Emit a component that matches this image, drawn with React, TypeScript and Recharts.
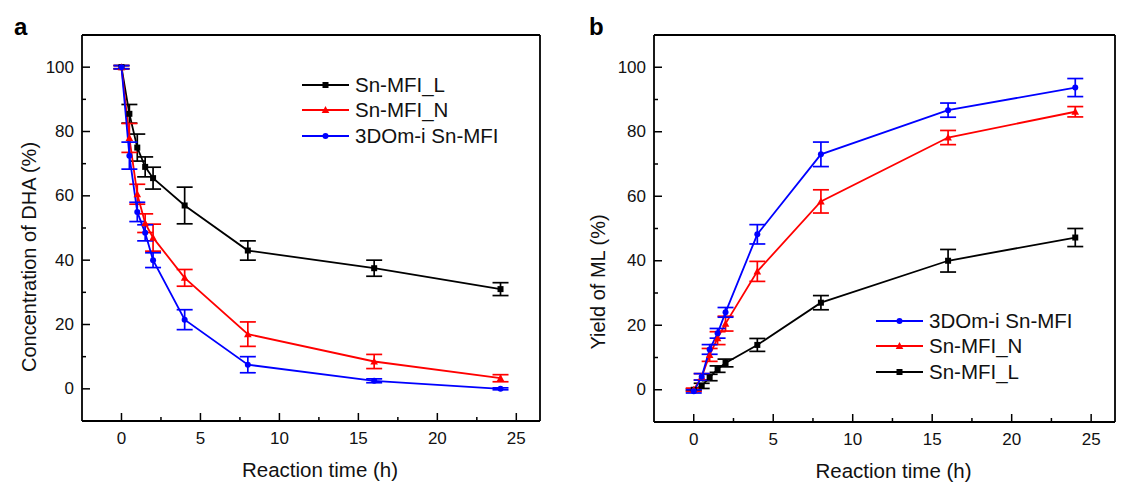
import { ComposedChart, Line, XAxis, YAxis, ErrorBar, Legend } from 'recharts'

const FONT = 'Arial, "Liberation Sans", sans-serif'

// reaction time (h), shared by every series
const time = [0, 0.5, 1, 1.5, 2, 4, 8, 16, 24]

// panel a: concentration of DHA (%)
const dhaL = [100, 85.5, 75, 69, 65.5, 57, 43, 37.5, 31]
const dhaLErr = [0.5, 2.9, 4.2, 3.1, 3.4, 5.7, 3, 2.5, 2]
const dhaN = [100, 78, 60.5, 51.5, 47, 34.5, 17, 8.5, 3.3]
const dhaNErr = [0.5, 4.5, 3.1, 2.9, 4.2, 2.6, 3.8, 2.2, 1.1]
const dhaI = [100, 72.5, 55, 48.5, 40, 21.5, 7.5, 2.5, 0]
const dhaIErr = [0.5, 4.2, 3, 2.5, 2.3, 3.1, 2.5, 0.6, 0.3]

// panel b: yield of ML (%)
const mlI = [-0.5, 4, 12.5, 17.5, 24, 48.2, 73, 86.7, 93.7]
const mlIErr = [0.5, 1, 1.5, 1.5, 1.5, 3, 3.8, 2.2, 2.8]
const mlN = [0, 4, 10.8, 16, 20.5, 36.7, 58.4, 78.2, 86.2]
const mlNErr = [0.5, 1, 2, 2, 2.3, 3.1, 3.6, 2.2, 1.6]
const mlL = [0, 1.2, 3.8, 6.4, 8.3, 13.9, 27, 40, 47.2]
const mlLErr = [0.3, 0.8, 1, 1, 1.2, 2, 2.2, 3.5, 2.8]

const xMajor = [0, 5, 10, 15, 20, 25]
const xMinor = [2.5, 7.5, 12.5, 17.5, 22.5]
const yMajor = [0, 20, 40, 60, 80, 100]
const yMinor = [10, 30, 50, 70, 90]

const xTicks = [...xMajor, ...xMinor].sort((a, b) => a - b)
const yTicks = [...yMajor, ...yMinor].sort((a, b) => a - b)

const nameL = 'Sn-MFI_L'
const nameN = 'Sn-MFI_N'
const nameI = '3DOm-i Sn-MFI'

const BLACK = '#000000'
const RED = '#ff0000'
const BLUE = '#0000ff'

const dhaData = time.map((t, i) => ({
  t, L: dhaL[i], LErr: dhaLErr[i], N: dhaN[i], NErr: dhaNErr[i], I: dhaI[i], IErr: dhaIErr[i],
}))
const mlData = time.map((t, i) => ({
  t, L: mlL[i], LErr: mlLErr[i], N: mlN[i], NErr: mlNErr[i], I: mlI[i], IErr: mlIErr[i],
}))

type Shape = 'square' | 'triangle' | 'circle'

function Marker({ cx, cy, shape, color }: { cx: number; cy: number; shape: Shape; color: string }) {
  if (shape === 'square') return <rect x={cx - 3} y={cy - 3} width={6} height={6} fill={color} />
  if (shape === 'triangle')
    return <path d={`M${cx},${cy - 4}L${cx + 3.8},${cy + 3}L${cx - 3.8},${cy + 3}Z`} fill={color} />
  return <circle cx={cx} cy={cy} r={3} fill={color} />
}

const dotFor = (shape: Shape, color: string) =>
  // eslint-disable-next-line @typescript-eslint/no-explicit-any
  (p: any) => <Marker key={`d${p.index}`} cx={p.cx} cy={p.cy} shape={shape} color={color} />

// eslint-disable-next-line @typescript-eslint/no-explicit-any
function YTick(props: any) {
  const { x, y, payload } = props
  const major = yMajor.includes(payload.value)
  return (
    <g>
      <line x1={x} x2={x + (major ? 8 : 4)} y1={y} y2={y} stroke="#000" strokeWidth={1.5} />
      {major && (
        <text x={x - 8} y={y} textAnchor="end" dominantBaseline="central"
          fontSize={17} fontFamily={FONT} fill="#111">{payload.value}</text>
      )}
    </g>
  )
}

// eslint-disable-next-line @typescript-eslint/no-explicit-any
function XTick(props: any) {
  const { x, y, payload } = props
  const major = xMajor.includes(payload.value)
  return (
    <g>
      <line x1={x} x2={x} y1={y} y2={y - (major ? 8 : 4)} stroke="#000" strokeWidth={1.5} />
      {major && (
        <text x={x} y={y + 23} textAnchor="middle" fontSize={17} fontFamily={FONT} fill="#111">
          {payload.value}
        </text>
      )}
    </g>
  )
}

function LegendBox({ items }: { items: { name: string; color: string; shape: Shape }[] }) {
  return (
    <div style={{ fontFamily: FONT, fontSize: 20.5, color: '#111' }}>
      {items.map(it => (
        <div key={it.name} style={{ display: 'flex', alignItems: 'center', height: 25.6, whiteSpace: 'nowrap' }}>
          <svg width={47} height={12}>
            <line x1={0} x2={47} y1={6} y2={6} stroke={it.color} strokeWidth={2} />
            <Marker cx={23.5} cy={6} shape={it.shape} color={it.color} />
          </svg>
          <span style={{ marginLeft: 6 }}>{it.name}</span>
        </div>
      ))}
    </div>
  )
}

interface PanelProps {
  // eslint-disable-next-line @typescript-eslint/no-explicit-any
  data: any[]
  width: number
  margin: { top: number; right: number; bottom: number; left: number }
  yTitle: string
  yTitleX: number
  yTitleY: number
  legendPos: { left: number; top: number }
  legendItems: { name: string; color: string; shape: Shape }[]
  order: ('L' | 'N' | 'I')[]
}

const seriesInfo = {
  L: { name: nameL, color: BLACK, shape: 'square' as Shape },
  N: { name: nameN, color: RED, shape: 'triangle' as Shape },
  I: { name: nameI, color: BLUE, shape: 'circle' as Shape },
}

function Panel({ data, width, margin, yTitle, yTitleX, yTitleY, legendPos, legendItems, order }: PanelProps) {
  const axisLine = { stroke: '#000', strokeWidth: 1.8 }
  return (
    <ComposedChart width={width} height={482} data={data} margin={margin}>
      <XAxis xAxisId="b" dataKey="t" type="number" domain={[-2.5, 26.5]} ticks={xTicks}
        height={1} tickSize={0} tickMargin={0} tickLine={false} axisLine={axisLine}
        tick={<XTick />} allowDataOverflow interval={0}
        label={{
          // eslint-disable-next-line @typescript-eslint/no-explicit-any
          content: (p: any) => (
            <text x={p.viewBox.x + p.viewBox.width / 2 + 9} y={p.viewBox.y + 56} textAnchor="middle"
              fontSize={20.5} fontFamily={FONT} fill="#111">Reaction time (h)</text>
          ),
        }}
      />
      <XAxis xAxisId="top" orientation="top" dataKey="t" type="number" domain={[-2.5, 26.5]}
        height={1} tick={false} tickLine={false} axisLine={axisLine} allowDataOverflow />
      <YAxis yAxisId="l" type="number" domain={[-10, 110]} ticks={yTicks} width={1} interval={0}
        tickSize={0} tickMargin={0} tickLine={false} axisLine={axisLine} tick={<YTick />} allowDataOverflow />
      <YAxis yAxisId="r" orientation="right" type="number" domain={[-10, 110]} width={1}
        tick={false} tickLine={false} axisLine={axisLine} allowDataOverflow />
      {order.map(k => {
        const s = seriesInfo[k]
        return (
          <Line key={k} xAxisId="b" yAxisId="l" dataKey={k} name={s.name} stroke={s.color} strokeWidth={1.8}
            dot={dotFor(s.shape, s.color)} activeDot={false} isAnimationActive={false}>
            <ErrorBar dataKey={`${k}Err`} direction="y" width={8} stroke={s.color} strokeWidth={1.7}
              isAnimationActive={false} />
          </Line>
        )
      })}
      <Legend layout="vertical" verticalAlign="middle" align="center"
        wrapperStyle={{ left: legendPos.left, top: legendPos.top, width: 250 }}
        content={() => <LegendBox items={legendItems} />} />
      <text x={yTitleX} y={yTitleY} textAnchor="middle" fontSize={20} fontFamily={FONT} fill="#111"
        transform={`rotate(-90, ${yTitleX}, ${yTitleY})`}>{yTitle}</text>
    </ComposedChart>
  )
}

export default function App() {
  return (
    <div style={{ position: 'absolute', left: 0, top: 0, width: 1122, height: 482, background: '#fff' }}>
      <div style={{ position: 'absolute', left: 0, top: 0 }}>
        <Panel data={dhaData} width={560} margin={{ top: 34, right: 19, bottom: 60, left: 81 }}
          yTitle="Concentration of DHA (%)" yTitleX={36} yTitleY={257}
          legendPos={{ left: 302, top: 72 }}
          legendItems={[seriesInfo.L, seriesInfo.N, seriesInfo.I]}
          order={['L', 'N', 'I']} />
      </div>
      <div style={{ position: 'absolute', left: 560, top: 0 }}>
        <Panel data={mlData} width={562} margin={{ top: 34, right: 6, bottom: 59, left: 93 }}
          yTitle="Yield of ML (%)" yTitleX={45} yTitleY={282}
          legendPos={{ left: 316, top: 308 }}
          legendItems={[seriesInfo.I, seriesInfo.N, seriesInfo.L]}
          order={['L', 'N', 'I']} />
      </div>
      <div style={{ position: 'absolute', left: 14, top: 15, fontFamily: FONT, fontSize: 24, fontWeight: 700, lineHeight: 1 }}>a</div>
      <div style={{ position: 'absolute', left: 589, top: 15, fontFamily: FONT, fontSize: 24, fontWeight: 700, lineHeight: 1 }}>b</div>
    </div>
  )
}
